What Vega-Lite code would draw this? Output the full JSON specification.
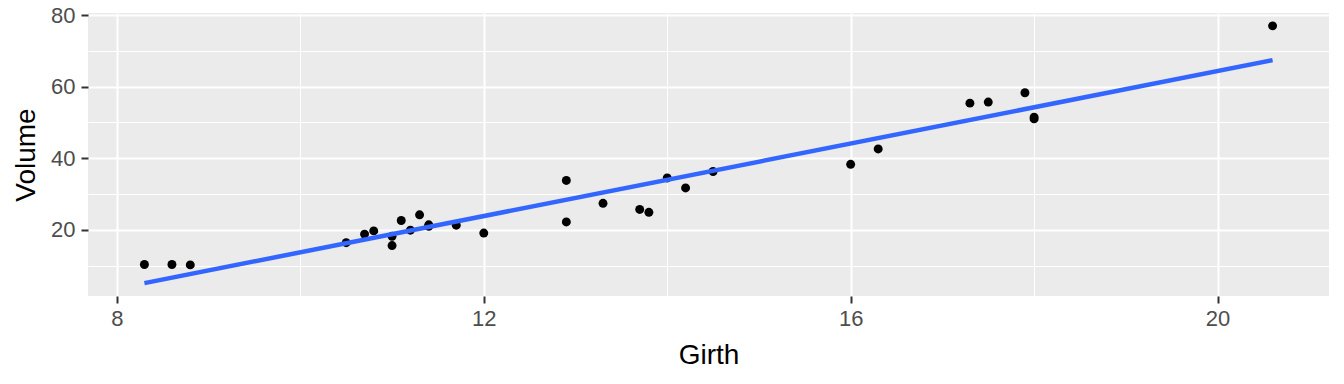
{
  "$schema": "https://vega.github.io/schema/vega-lite/v6.json",
  "width": 1241,
  "height": 283,
  "autosize": "none",
  "padding": {"left": 88, "top": 13, "right": 15, "bottom": 88},
  "background": "white",
  "config": {
    "view": {"fill": "#EBEBEB", "stroke": null},
    "font": "Liberation Sans",
    "axis": {
      "domain": false,
      "gridColor": "white",
      "labelColor": "#4D4D4D",
      "labelFontSize": 22,
      "labelFont": "Liberation Sans",
      "tickColor": "#333333",
      "tickSize": 7,
      "tickWidth": 2,
      "titleFontSize": 28,
      "titleFont": "Liberation Sans",
      "titleFontWeight": "normal",
      "titleColor": "black"
    }
  },
  "data": {
    "values": [
      {"Girth": 8.3, "Volume": 10.3},
      {"Girth": 8.6, "Volume": 10.3},
      {"Girth": 8.8, "Volume": 10.2},
      {"Girth": 10.5, "Volume": 16.4},
      {"Girth": 10.7, "Volume": 18.8},
      {"Girth": 10.8, "Volume": 19.7},
      {"Girth": 11.0, "Volume": 15.6},
      {"Girth": 11.0, "Volume": 18.2},
      {"Girth": 11.1, "Volume": 22.6},
      {"Girth": 11.2, "Volume": 19.9},
      {"Girth": 11.3, "Volume": 24.2},
      {"Girth": 11.4, "Volume": 21.0},
      {"Girth": 11.4, "Volume": 21.4},
      {"Girth": 11.7, "Volume": 21.3},
      {"Girth": 12.0, "Volume": 19.1},
      {"Girth": 12.9, "Volume": 22.2},
      {"Girth": 12.9, "Volume": 33.8},
      {"Girth": 13.3, "Volume": 27.4},
      {"Girth": 13.7, "Volume": 25.7},
      {"Girth": 13.8, "Volume": 24.9},
      {"Girth": 14.0, "Volume": 34.5},
      {"Girth": 14.2, "Volume": 31.7},
      {"Girth": 14.5, "Volume": 36.3},
      {"Girth": 16.0, "Volume": 38.3},
      {"Girth": 16.3, "Volume": 42.6},
      {"Girth": 17.3, "Volume": 55.4},
      {"Girth": 17.5, "Volume": 55.7},
      {"Girth": 17.9, "Volume": 58.3},
      {"Girth": 18.0, "Volume": 51.5},
      {"Girth": 18.0, "Volume": 51.0},
      {"Girth": 20.6, "Volume": 77.0}
    ]
  },
  "encoding": {
    "x": {
      "field": "Girth",
      "type": "quantitative",
      "scale": {"domain": [7.685, 21.215], "nice": false, "zero": false},
      "axis": {
        "values": [8, 10, 12, 14, 16, 18, 20],
        "labelExpr": "datum.value % 4 === 0 ? datum.label : ''",
        "gridWidth": {"condition": {"test": "datum.value % 4 === 0", "value": 2}, "value": 1},
        "tickOpacity": {"condition": {"test": "datum.value % 4 === 0", "value": 1}, "value": 0},
        "labelPadding": 5,
        "titlePadding": 12,
        "title": "Girth"
      }
    },
    "y": {
      "field": "Volume",
      "type": "quantitative",
      "scale": {"domain": [1.505, 80.595], "nice": false, "zero": false},
      "axis": {
        "values": [10, 20, 30, 40, 50, 60, 70, 80],
        "labelExpr": "datum.value % 20 === 0 ? datum.label : ''",
        "gridWidth": {"condition": {"test": "datum.value % 20 === 0", "value": 2}, "value": 1},
        "tickOpacity": {"condition": {"test": "datum.value % 20 === 0", "value": 1}, "value": 0},
        "labelPadding": 6,
        "titlePadding": 10,
        "title": "Volume"
      }
    }
  },
  "layer": [
    {
      "mark": {"type": "circle", "color": "black", "opacity": 1, "size": 80}
    },
    {
      "transform": [{"regression": "Volume", "on": "Girth"}],
      "mark": {"type": "line", "color": "#3366FF", "strokeWidth": 4.5}
    }
  ]
}
